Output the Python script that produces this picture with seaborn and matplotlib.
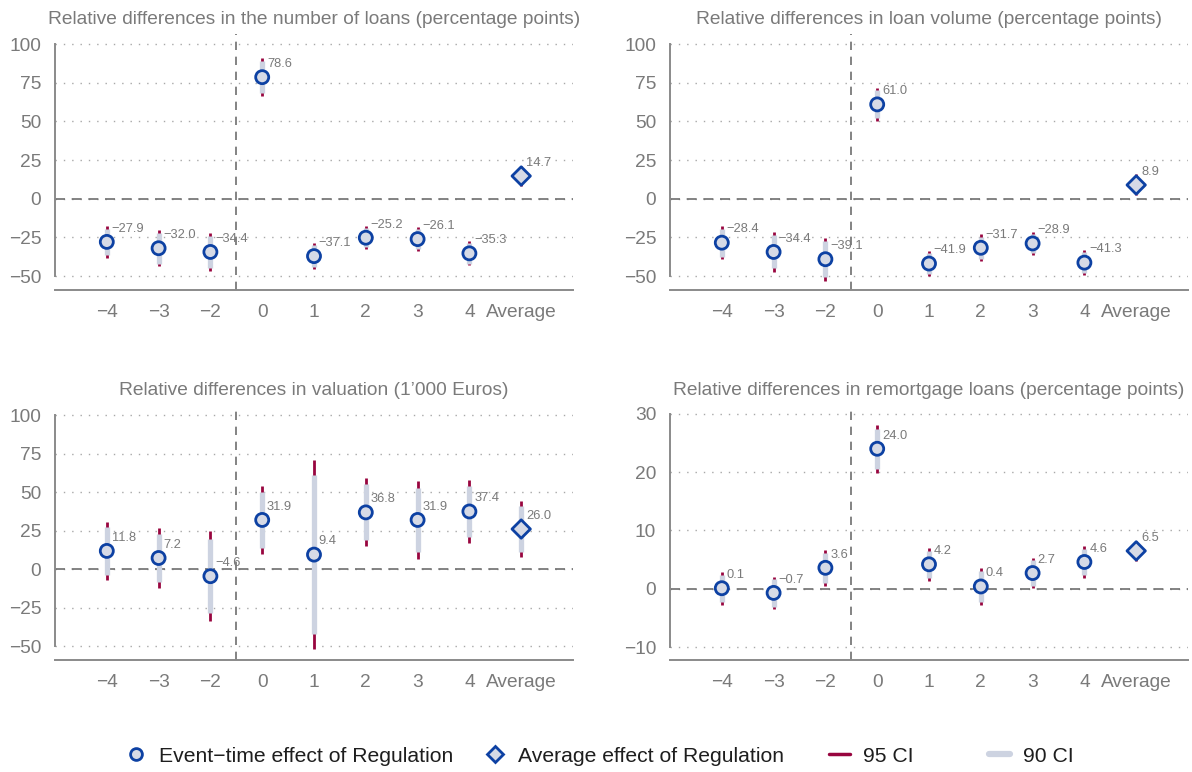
import matplotlib
matplotlib.use("Agg")
import matplotlib.pyplot as plt
from matplotlib.lines import Line2D
import seaborn as sns
import pandas as pd

# ---------------- data ----------------
categories = ['\u22124', '\u22123', '\u22122', '0', '1', '2', '3', '4', 'Average']
kinds = ['Event'] * 8 + ['Average']

loans_est = [-27.9, -32.0, -34.4, 78.6, -37.1, -25.2, -26.1, -35.3, 14.7]
loans_ci95 = [10.1, 11.8, 12.0, 12.1, 8.2, 7.5, 7.7, 7.8, 6.4]
loans_ci90 = [8.5, 9.9, 10.1, 10.2, 6.9, 6.3, 6.5, 6.6, 5.4]

volume_est = [-28.4, -34.4, -39.1, 61.0, -41.9, -31.7, -28.9, -41.3, 8.9]
volume_ci95 = [10.7, 12.8, 14.0, 10.7, 8.2, 8.6, 7.2, 8.1, 6.8]
volume_ci90 = [9.0, 10.7, 11.8, 9.0, 6.9, 7.2, 6.0, 6.8, 5.7]

valuation_est = [11.8, 7.2, -4.6, 31.9, 9.4, 36.8, 31.9, 37.4, 26.0]
valuation_ci95 = [18.7, 19.2, 29.0, 22.2, 61.5, 22.0, 25.3, 20.7, 18.3]
valuation_ci90 = [15.4, 15.9, 24.1, 18.3, 51.6, 18.2, 20.9, 16.8, 15.0]

remort_est = [0.1, -0.7, 3.6, 24.0, 4.2, 0.4, 2.7, 4.6, 6.5]
remort_ci95 = [2.8, 2.8, 3.1, 4.1, 2.8, 3.1, 2.6, 2.8, 1.7]
remort_ci90 = [2.3, 2.4, 2.6, 3.4, 2.3, 2.6, 2.2, 2.3, 1.4]

titles = [
    "Relative differences in the number of loans (percentage points)",
    "Relative differences in loan volume (percentage points)",
    "Relative differences in valuation (1\u2019000 Euros)",
    "Relative differences in remortgage loans (percentage points)",
]
yticks_big = [-50, -25, 0, 25, 50, 75, 100]
yticks_small = [-10, 0, 10, 20, 30]

legend_labels = ["Event\u2212time effect of Regulation", "Average effect of Regulation",
                 "95 CI", "90 CI"]

# ---------------- style ----------------
sns.set_style("white")
plt.rcParams['font.family'] = ['Liberation Sans', 'DejaVu Sans']

C_EDGE = "#0d41a3"
C_FACE = "#d6dae6"
C_95 = "#98053f"
C_90 = "#cdd3e1"
C_TXT = "#7a7a7a"
C_AX = "#8a8a8a"

W, H = 1192, 772
fig = plt.figure(figsize=(W / 100, H / 100), dpi=100)

def fr(l, t, r, b):
    return [l / W, 1 - b / H, (r - l) / W, (b - t) / H]

panels = [
    (fr(55, 34, 573, 290), loans_est, loans_ci95, loans_ci90, (-59, 106.5), yticks_big),
    (fr(670, 34, 1188, 290), volume_est, volume_ci95, volume_ci90, (-59, 106.5), yticks_big),
    (fr(55, 405, 573, 660), valuation_est, valuation_ci95, valuation_ci90, (-59, 106.5), yticks_big),
    (fr(670, 405, 1188, 660), remort_est, remort_ci95, remort_ci90, (-12.2, 31.5), yticks_small),
]

for (rect, est, c95, c90, ylim, yt), title in zip(panels, titles):
    ax = fig.add_axes(rect)
    df = pd.DataFrame({
        'pos': list(range(len(categories))),
        'cat': categories,
        'est': est,
        'lo95': [e - h for e, h in zip(est, c95)],
        'hi95': [e + h for e, h in zip(est, c95)],
        'lo90': [e - h for e, h in zip(est, c90)],
        'hi90': [e + h for e, h in zip(est, c90)],
        'kind': kinds,
    })
    # grid
    for v in yt:
        ax.axhline(v, color="#a8a8a8", lw=1.0, ls=(0, (1, 5)), zorder=0)
    ax.axhline(0, color="#6e6e6e", lw=1.2, ls=(0, (6, 4)), zorder=1)
    ax.axvline(2.5, color="#6e6e6e", lw=1.2, ls=(0, (5, 4)), zorder=1)
    # CIs
    ax.vlines(df['pos'], df['lo95'], df['hi95'], color=C_95, lw=2.0, zorder=2)
    ax.vlines(df['pos'], df['lo90'], df['hi90'], color=C_90, lw=3.8, zorder=3)
    # points
    sns.scatterplot(data=df, x='pos', y='est', style='kind',
                    markers={'Event': 'o', 'Average': 'D'},
                    s=88, color=C_FACE, edgecolor=C_EDGE, linewidth=2.0,
                    legend=False, zorder=4, ax=ax)
    for p, e in zip(df['pos'], df['est']):
        ax.annotate(f"{e:.1f}".replace('-', '\u2212'), (p, e),
                    xytext=(3.5, 9.5), textcoords='offset points',
                    ha='left', va='center', fontsize=9.3, color=C_TXT, zorder=5)
    ax.set_xlim(-1, 9)
    ax.set_ylim(*ylim)
    ax.set_xticks(range(len(categories)))
    ax.set_xticklabels(categories)
    ax.set_yticks(yt)
    ax.set_yticklabels([str(v).replace('-', '\u2212') for v in yt])
    ax.set_xlabel('')
    ax.set_ylabel('')
    for s in ['top', 'right']:
        ax.spines[s].set_visible(False)
    ax.spines['left'].set_bounds(yt[0], yt[-1])
    for s in ['left', 'bottom']:
        ax.spines[s].set_color(C_AX)
        ax.spines[s].set_linewidth(1.4)
    ax.tick_params(axis='both', colors=C_AX, labelcolor=C_TXT, labelsize=13.8,
                   width=1.2)
    ax.tick_params(axis='y', length=8, pad=2)
    ax.tick_params(axis='x', length=5, pad=5)
    ax.set_title(title, fontsize=13.8, color=C_TXT, pad=7)

handles = [
    Line2D([], [], ls='none', marker='o', markersize=8.5, markerfacecolor=C_FACE,
           markeredgecolor=C_EDGE, markeredgewidth=2.0),
    Line2D([], [], ls='none', marker='D', markersize=8.5, markerfacecolor=C_FACE,
           markeredgecolor=C_EDGE, markeredgewidth=2.0),
    Line2D([], [], color=C_95, lw=2.5),
    Line2D([], [], color=C_90, lw=4.5),
]
legend_x = [125, 484, 829, 989]
for h, lab, lx in zip(handles, legend_labels, legend_x):
    fig.legend([h], [lab], loc='center left', bbox_to_anchor=(lx / W, 1 - 756 / H),
               frameon=False, fontsize=15.2, handlelength=1.0, borderpad=0,
               borderaxespad=0, handletextpad=0.6, labelcolor="#1e1e1e")

fig.savefig("out.png", dpi=100)
